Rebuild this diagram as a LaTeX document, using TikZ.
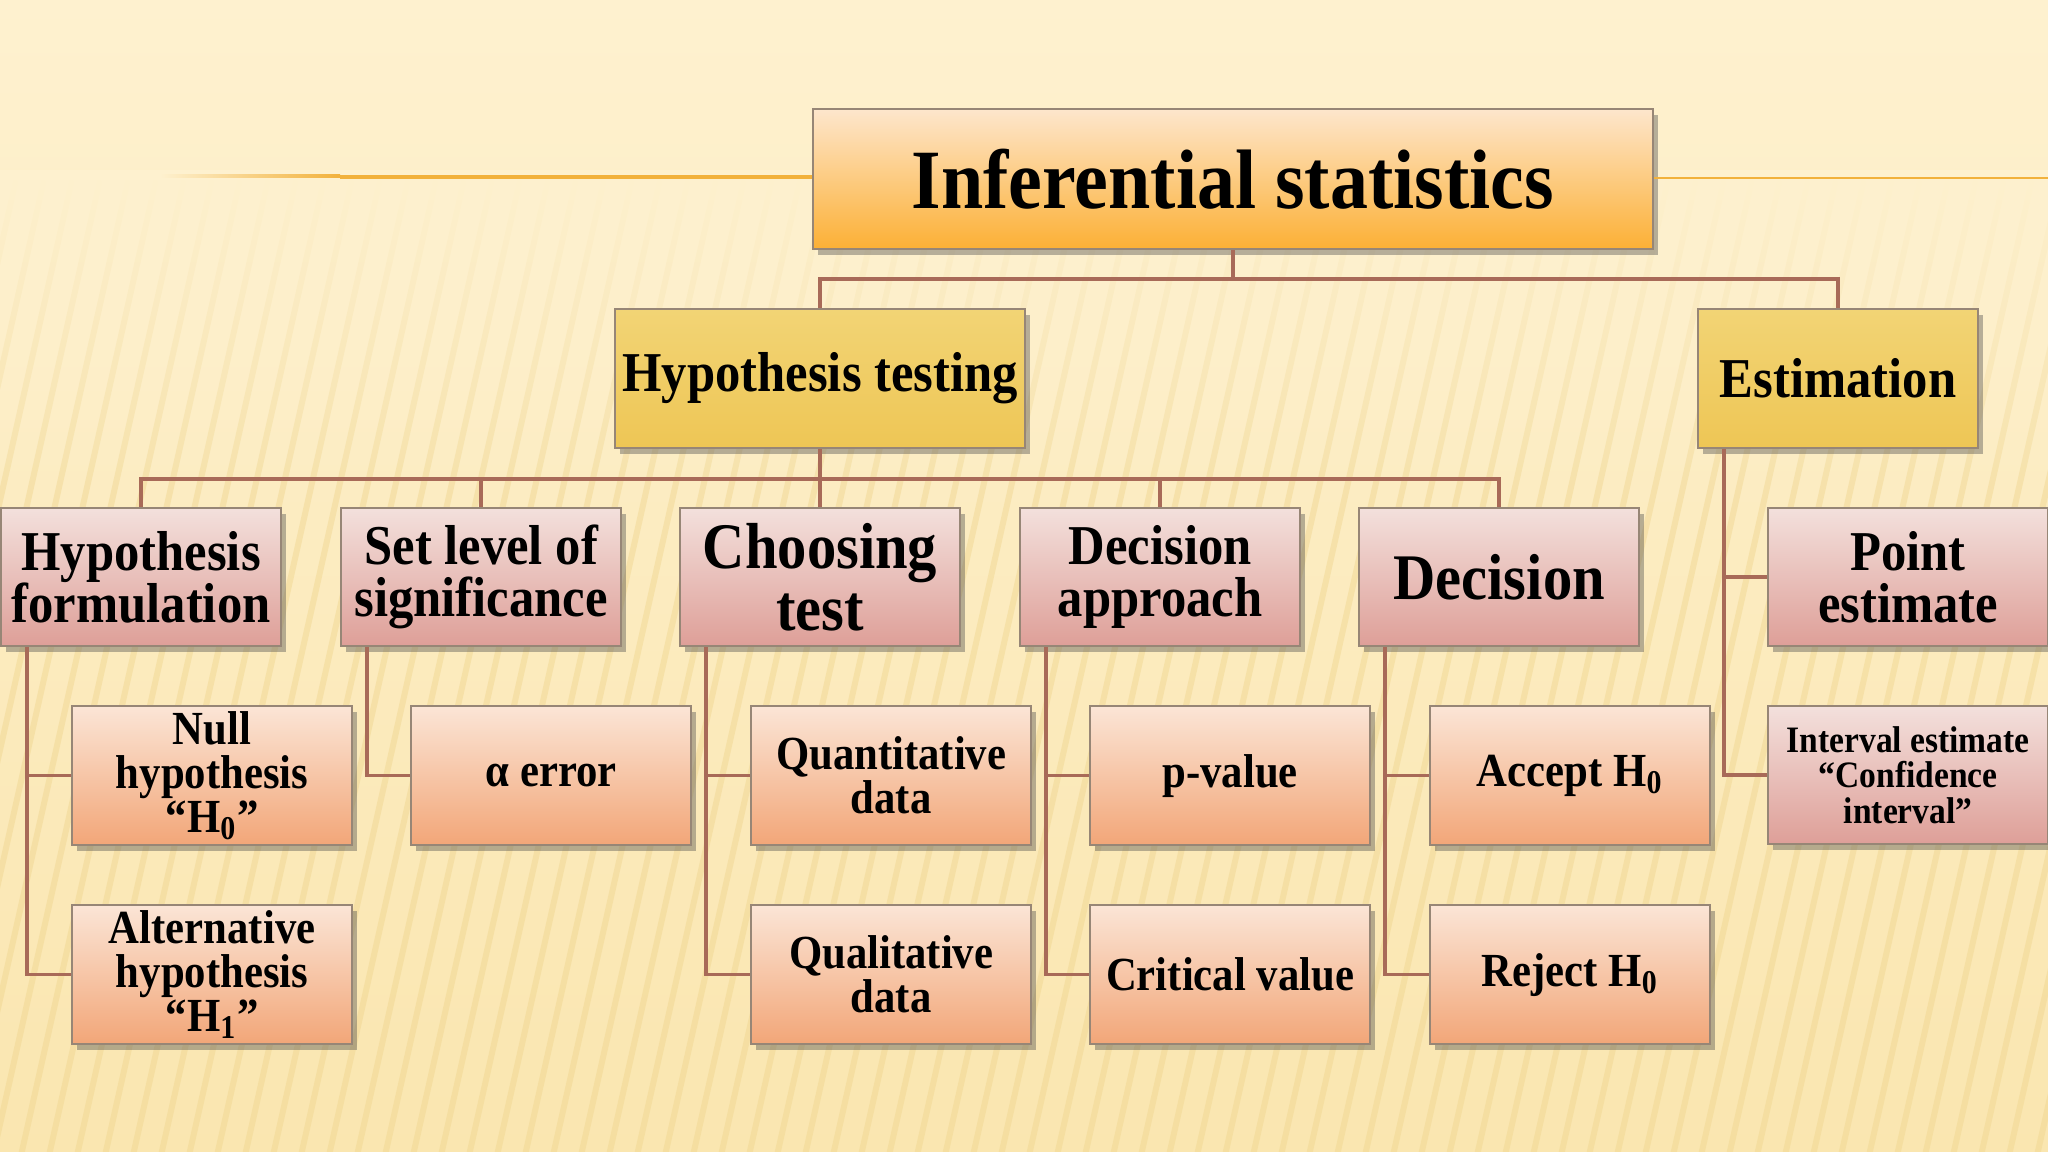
\documentclass[tikz,border=0pt]{standalone}
\usepackage{fontspec}
\setmainfont[FakeStretch=0.9]{Liberation Serif}
\usetikzlibrary{shadows}

\definecolor{bgtop}{HTML}{FEF1CF}
\definecolor{bgbot}{HTML}{FAE6B0}
\definecolor{stripecol}{HTML}{EFD58E}
\definecolor{orangeline}{HTML}{F2B23E}
\definecolor{conncol}{HTML}{A86A58}
\definecolor{boxline}{HTML}{978676}
\definecolor{mainA}{HTML}{FDE6CC}
\definecolor{mainB}{HTML}{FCB035}
\definecolor{goldA}{HTML}{F2D475}
\definecolor{goldB}{HTML}{EEC655}
\definecolor{roseA}{HTML}{F3E0DC}
\definecolor{roseB}{HTML}{DE9F98}
\definecolor{peachA}{HTML}{FBE5D6}
\definecolor{peachB}{HTML}{F2A678}

\tikzset{
  box/.style={draw=boxline, line width=0.6pt, inner sep=1pt, align=center, anchor=north west,
    text=black, drop shadow={shadow xshift=0.05cm, shadow yshift=-0.06cm, opacity=0.4, fill=black!70}},
  mainbox/.style={box, minimum width=8.39cm, minimum height=1.40cm, top color=mainA, bottom color=mainB,
    font=\bfseries\fontsize{24}{26}\selectfont},
  goldbox/.style={box, minimum height=1.39cm, top color=goldA, bottom color=goldB,
    font=\bfseries\fontsize{16}{15}\selectfont},
  stagebox/.style={box, minimum width=2.80cm, minimum height=1.38cm, top color=roseA, bottom color=roseB,
    font=\bfseries\fontsize{16}{14.8}\selectfont},
  itembox/.style={box, minimum width=2.80cm, minimum height=1.39cm, top color=peachA, bottom color=peachB,
    font=\bfseries\fontsize{13.5}{12.5}\selectfont},
  conn/.style={draw=conncol, line width=1pt},
  stripe/.style={draw=stripecol, line width=0.06cm, opacity=0.45}
}

\begin{document}
\begin{tikzpicture}[x=0.01cm,y=-0.01cm]
\useasboundingbox (0,0) rectangle (2048,1152);
% background
\fill[top color=bgtop,bottom color=bgbot] (0,0) rectangle (2048,1152);
\begin{scope}
\clip (0,0) rectangle (2048,1152);
\foreach \x in {-400,-372,...,2100} \draw[stripe] (\x,1160) -- (\x+220,180);
\end{scope}
\foreach \i [evaluate=\i as \op using 1-\i/32] in {0,...,31}
  \fill[bgtop,opacity=\op] (0,170+10*\i) rectangle (2048,180+10*\i);

% root
\node[mainbox] (root) at (812,108) {Inferential statistics};
\fill[left color=bgtop,right color=orangeline] (160,175) rectangle (340,177.5);
\fill[orangeline] (340,175) rectangle (root.west);
\fill[orangeline] (root.east) rectangle (2048,177.5);

% first level
\node[goldbox, minimum width=4.10cm] (test) at (614,308) {Hypothesis testing};
\node[goldbox, minimum width=2.80cm] (est) at (1697,308) {Estimation};
\draw[conn] (root.south) -- ++(0,29) -| (test.north);
\draw[conn] (root.south) -- ++(0,29) -| (est.north);

% stages of testing
\node[stagebox] (form) at (0,507) {Hypothesis\\formulation};
\node[stagebox] (sig) at (340,507) {Set level of\\significance};
\node[stagebox, font=\bfseries\fontsize{18.5}{17.5}\selectfont] (choose) at (679,507) {Choosing\\test};
\node[stagebox] (appr) at (1019,507) {Decision\\approach};
\node[stagebox, font=\bfseries\fontsize{18.5}{17.5}\selectfont] (dec) at (1358,507) {Decision};
\foreach \n in {form,sig,choose,appr,dec} \draw[conn] (test.south) -- ++(0,30) -| (\n.north);

% items
\node[itembox] (null) at (71,705) {Null\\hypothesis\\“H\textsubscript{0}”};
\node[itembox] (alt) at (71,904) {Alternative\\hypothesis\\“H\textsubscript{1}”};
\node[itembox] (alpha) at (410,705) {α error};
\node[itembox] (quant) at (750,705) {Quantitative\\data};
\node[itembox] (qual) at (750,904) {Qualitative\\data};
\node[itembox] (pval) at (1089,705) {p-value};
\node[itembox] (crit) at (1089,904) {Critical value};
\node[itembox] (acc) at (1429,705) {Accept H\textsubscript{0}};
\node[itembox] (rej) at (1429,904) {Reject H\textsubscript{0}};
\foreach \p/\c in {form/null,form/alt,sig/alpha,choose/quant,choose/qual,appr/pval,appr/crit,dec/acc,dec/rej}
  \draw[conn] ([xshift=0.27cm]\p.south west) |- (\c.west);

% estimation
\node[stagebox] (point) at (1767,507) {Point\\estimate};
\node[stagebox, font=\bfseries\fontsize{10.6}{10}\selectfont] (intv) at (1767,705) {Interval estimate\\“Confidence\\interval”};
\foreach \c in {point,intv} \draw[conn] ([xshift=0.27cm]est.south west) |- (\c.west);
\end{tikzpicture}
\end{document}
